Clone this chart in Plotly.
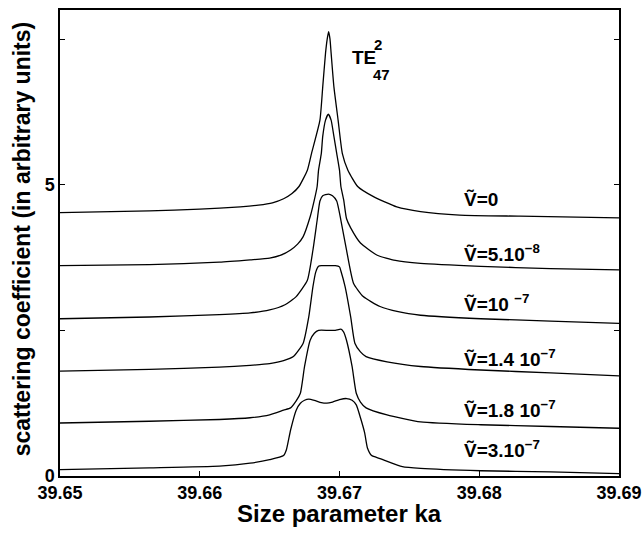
import plotly.graph_objects as go

# ---- data ----
ka_v0 = [39.6500, 39.6564, 39.6600, 39.6629, 39.6642, 39.6652, 39.6660, 39.6666, 39.6671, 39.6677,
         39.6680, 39.6686, 39.6688, 39.6690, 39.66912, 39.66922, 39.66932, 39.6694, 39.6696, 39.6699,
         39.6702, 39.6706, 39.6713, 39.6724, 39.6741, 39.6758, 39.6786, 39.6829, 39.6900]
sc_v0 = [4.52, 4.55, 4.58, 4.62, 4.65, 4.69, 4.76, 4.85, 4.97, 5.25,
         5.54, 6.11, 6.68, 7.26, 7.50, 7.63, 7.50, 7.26, 6.68, 6.11,
         5.54, 5.25, 4.97, 4.80, 4.62, 4.54, 4.48, 4.46, 4.43]

ka_v1 = [39.6500, 39.6564, 39.6614, 39.6636, 39.6650, 39.6658, 39.6665, 39.6670, 39.6674, 39.6679,
         39.6682, 39.6684, 39.6685, 39.6687, 39.6688, 39.6690, 39.6692, 39.6694, 39.6696, 39.6698,
         39.6700, 39.6701, 39.6703, 39.6705, 39.6708, 39.6715, 39.6727, 39.6740, 39.6758, 39.6801,
         39.6851, 39.6900]
sc_v1 = [3.61, 3.63, 3.67, 3.71, 3.74, 3.79, 3.88, 3.98, 4.11, 4.45,
         4.74, 4.97, 5.25, 5.54, 5.83, 6.11, 6.21, 6.11, 5.83, 5.54,
         5.25, 4.97, 4.74, 4.42, 4.26, 4.00, 3.79, 3.70, 3.65, 3.60,
         3.56, 3.54]

ka_v2 = [39.6500, 39.6564, 39.6614, 39.6636, 39.6650, 39.6661, 39.6669, 39.6677, 39.6681, 39.6684,
         39.6686, 39.6688, 39.6692, 39.6695, 39.6698, 39.6701, 39.6705, 39.6710, 39.6717, 39.6729,
         39.6742, 39.6758, 39.6801, 39.6851, 39.6900]
sc_v2 = [2.70, 2.73, 2.77, 2.80, 2.85, 2.94, 3.08, 3.36, 3.88, 4.39,
         4.72, 4.81, 4.84, 4.81, 4.72, 4.39, 3.88, 3.31, 3.08, 2.91,
         2.82, 2.76, 2.70, 2.66, 2.62]

ka_v3 = [39.6500, 39.6564, 39.6614, 39.6636, 39.6650, 39.6660, 39.6667, 39.6674, 39.6678, 39.6681,
         39.6683, 39.6685, 39.6687, 39.6692, 39.6697, 39.6700, 39.6701, 39.6704, 39.6708, 39.6711,
         39.6715, 39.6719, 39.6734, 39.6758, 39.6801, 39.6851, 39.6900]
sc_v3 = [1.80, 1.83, 1.87, 1.90, 1.93, 1.98, 2.05, 2.28, 2.73, 3.25,
         3.50, 3.60, 3.61, 3.61, 3.61, 3.59, 3.52, 3.25, 2.73, 2.28,
         2.13, 2.05, 1.96, 1.88, 1.82, 1.77, 1.72]

ka_v4 = [39.6500, 39.6564, 39.6614, 39.6636, 39.6650, 39.6660, 39.6665, 39.6669, 39.6672, 39.6675,
         39.6679, 39.6682, 39.6685, 39.6692, 39.6697, 39.6701, 39.6703, 39.6705, 39.6709, 39.6712,
         39.6715, 39.6719, 39.6734, 39.6758, 39.6801, 39.6851, 39.6900]
sc_v4 = [0.91, 0.94, 0.97, 1.00, 1.05, 1.13, 1.17, 1.29, 1.42, 1.88,
         2.33, 2.45, 2.50, 2.50, 2.50, 2.52, 2.47, 2.33, 1.88, 1.42,
         1.27, 1.17, 1.05, 0.93, 0.88, 0.85, 0.82]

ka_v5 = [39.6500, 39.6564, 39.6614, 39.6636, 39.6650, 39.6660, 39.6662, 39.6665, 39.6669, 39.6672,
         39.6675, 39.6678, 39.6682, 39.6687, 39.6691, 39.6695, 39.6700, 39.6705, 39.6709, 39.6712,
         39.6715, 39.6718, 39.6720, 39.6723, 39.6729, 39.6745, 39.6758, 39.6801, 39.6851, 39.6900]
sc_v5 = [0.11, 0.14, 0.17, 0.22, 0.28, 0.35, 0.45, 0.79, 1.13, 1.25,
         1.30, 1.32, 1.30, 1.26, 1.25, 1.27, 1.31, 1.33, 1.30, 1.22,
         1.00, 0.74, 0.48, 0.35, 0.30, 0.16, 0.13, 0.09, 0.07, 0.04]

series_x = [ka_v0, ka_v1, ka_v2, ka_v3, ka_v4, ka_v5]
series_y = [sc_v0, sc_v1, sc_v2, sc_v3, sc_v4, sc_v5]

labels = ["V\u0303=0", "V\u0303=5.10<sup>\u22128</sup>", "V\u0303=10 <sup>\u22127</sup>",
          "V\u0303=1.4 10<sup>\u22127</sup>", "V\u0303=1.8 10<sup>\u22127</sup>", "V\u0303=3.10<sup>\u22127</sup>"]
label_x = 39.6788
label_y = [4.74, 3.83, 2.97, 2.03, 1.15, 0.46]

x_ticks = [39.65, 39.66, 39.67, 39.68, 39.69]
x_ticktext = ["39.65", "39.66", "39.67", "39.68", "39.69"]
y_ticks = [0, 2.5, 5, 7.5]
y_ticktext = ["0", "", "5", ""]

FONT = "Liberation Sans"

fig = go.Figure()
for xs, ys in zip(series_x, series_y):
    fig.add_trace(go.Scatter(x=xs, y=ys, mode="lines",
                             line=dict(color="black", width=1.3, shape="spline", smoothing=0.5),
                             showlegend=False, hoverinfo="skip"))

for t, yv in zip(labels, label_y):
    fig.add_annotation(x=label_x, y=yv, text=t, showarrow=False, xanchor="left", yanchor="middle",
                       font=dict(family=FONT, size=19, color="black", weight="bold"))

# TE mode label
fig.add_annotation(x=39.67075, y=7.18, text="TE", showarrow=False, xanchor="left", yanchor="middle",
                   font=dict(family=FONT, size=19, color="black", weight="bold"))
fig.add_annotation(x=39.67236, y=7.40, text="2", showarrow=False, xanchor="left", yanchor="middle",
                   font=dict(family=FONT, size=15, color="black", weight="bold"))
fig.add_annotation(x=39.67222, y=6.90, text="47", showarrow=False, xanchor="left", yanchor="middle",
                   font=dict(family=FONT, size=15, color="black", weight="bold"))

# axis titles
fig.add_annotation(xref="paper", yref="paper", x=0.5, y=-0.08, text="Size parameter ka",
                   showarrow=False, xanchor="center", yanchor="middle",
                   font=dict(family=FONT, size=24, color="black", weight="bold"))
fig.add_annotation(xref="paper", yref="paper", x=-0.068, y=0.51,
                   text="scattering coefficient (in arbitrary units)", textangle=-90,
                   showarrow=False, xanchor="center", yanchor="middle",
                   font=dict(family=FONT, size=23, color="black", weight="bold"))

axis_common = dict(showgrid=False, zeroline=False, showline=True, linecolor="black", linewidth=1.5,
                   ticks="inside", ticklen=5, tickcolor="black", tickwidth=1, automargin=False,
                   tickfont=dict(family=FONT, size=18, color="black", weight="bold"))

fig.update_xaxes(range=[39.65, 39.69], tickvals=x_ticks, ticktext=x_ticktext, mirror=True,
                 **axis_common)
fig.update_yaxes(range=[0, 8], tickvals=y_ticks, ticktext=y_ticktext, mirror="ticks",
                 **axis_common)

fig.update_layout(width=644, height=534, margin=dict(l=60, r=25, t=10, b=58),
                  plot_bgcolor="white", paper_bgcolor="white")

fig.write_html("out.html", config={"displayModeBar": False},
               post_script="document.body.style.margin='0';document.body.style.overflow='hidden';")
